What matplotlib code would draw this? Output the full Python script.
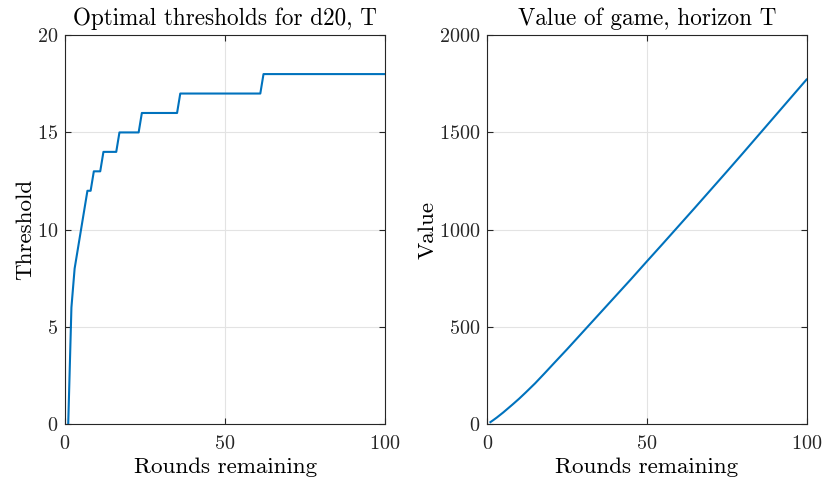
import matplotlib
matplotlib.use('Agg')
import matplotlib.pyplot as plt

# optimal threshold for each number of rounds remaining (1..100)
rounds = list(range(1, 101))
threshold = ([0, 6, 8, 9, 10, 11, 12, 12]
             + [13] * 3
             + [14] * 5
             + [15] * 7
             + [16] * 12
             + [17] * 26
             + [18] * 39)

# value of game
val_rounds = [1, 2, 3, 4, 5, 6, 8, 10, 12, 15, 18, 21, 25, 30, 35, 40,
              45, 50, 55, 60, 65, 70, 75, 80, 85, 90, 95, 100]
value = [10.5, 22, 34, 47, 60, 74, 102, 131, 162, 210, 262, 315, 385, 475,
         565, 655, 745, 837, 928, 1020, 1112, 1205, 1298, 1392, 1487, 1582,
         1677, 1772]

plt.rcParams['font.family'] = 'serif'
plt.rcParams['font.serif'] = ['cmr10']
plt.rcParams['mathtext.fontset'] = 'cm'
plt.rcParams['axes.formatter.use_mathtext'] = True

blue = '#0072BD'
axcol = '#262626'

def style(ax):
    ax.grid(True, color='#e3e3e3', linewidth=0.8)
    ax.set_axisbelow(True)
    for s in ax.spines.values():
        s.set_color(axcol)
        s.set_linewidth(0.8)
    ax.tick_params(direction='in', top=True, right=True, length=4,
                   width=0.8, colors=axcol, labelsize=14.5, pad=5)
    ax.tick_params(axis='x', pad=8)

fig = plt.figure(figsize=(8.23, 4.82), dpi=100)
ax1 = fig.add_axes([0.079, 0.12, 0.389, 0.807])
ax2 = fig.add_axes([0.592, 0.12, 0.388, 0.807])

ax1.plot(rounds, threshold, color=blue, linewidth=1.5)
ax1.set_xlim(0, 100)
ax1.set_ylim(0, 20)
ax1.set_xticks([0, 50, 100])
ax1.set_yticks([0, 5, 10, 15, 20])
ax1.set_title('Optimal thresholds for d20, T', fontsize=16.7, pad=7)
ax1.set_xlabel('Rounds remaining', fontsize=16.6, labelpad=3)
ax1.set_ylabel('Threshold', fontsize=16.6, labelpad=1)
style(ax1)

ax2.plot(val_rounds, value, color=blue, linewidth=1.5)
ax2.set_xlim(0, 100)
ax2.set_ylim(0, 2000)
ax2.set_xticks([0, 50, 100])
ax2.set_yticks([0, 500, 1000, 1500, 2000])
ax2.set_title('Value of game, horizon T', fontsize=16.7, pad=7)
ax2.set_xlabel('Rounds remaining', fontsize=16.6, labelpad=3)
ax2.set_ylabel('Value', fontsize=16.6, labelpad=1)
style(ax2)

fig.savefig('out.png', dpi=100)
